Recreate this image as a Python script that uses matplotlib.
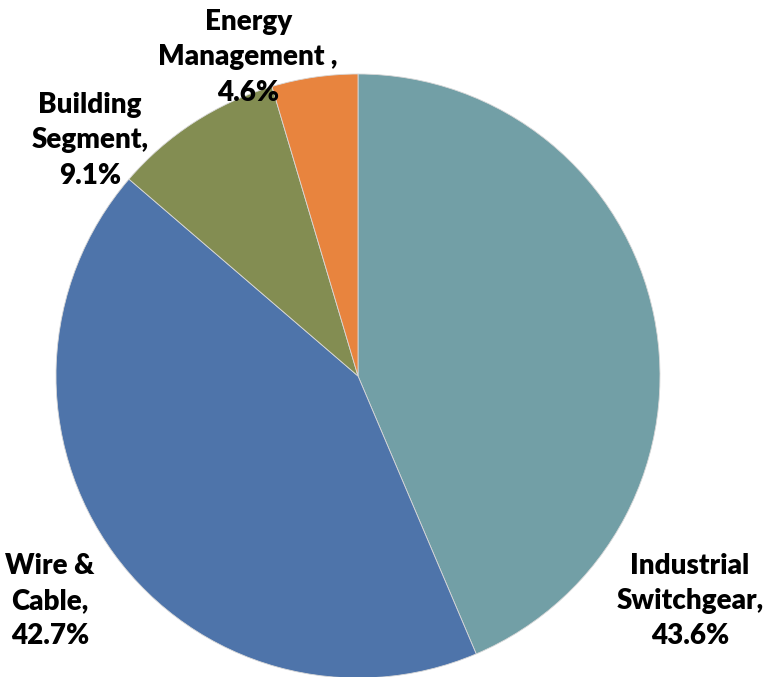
import matplotlib
matplotlib.use("Agg")
import matplotlib.pyplot as plt

segments = ["Industrial\nSwitchgear,", "Wire &\nCable,", "Building\nSegment,", "Energy\nManagement ,"]
shares = [43.6, 42.7, 9.1, 4.6]
colors = ["#729FA6", "#4E74AA", "#838D52", "#E8843E"]

# label centres in pie-radius units
label_pos = [(1.099, -0.745), (-1.02, -0.745), (-0.887, 0.781), (-0.364, 1.056)]

W, H = 768, 677
cx, cy, r = 358, 376, 302

fig = plt.figure(figsize=(W / 100, H / 100), dpi=100)
ax = fig.add_axes([0, 0, 1, 1])
ax.pie(shares, colors=colors, startangle=90, counterclock=False, radius=1,
       wedgeprops=dict(linewidth=0.6, edgecolor="#d8d8d8"))
ax.set_xlim(-cx / r, (W - cx) / r)
ax.set_ylim(-(H - cy) / r, cy / r)
ax.set_aspect("equal")
ax.axis("off")

for name, val, (x, y) in zip(segments, shares, label_pos):
    ax.text(x, y, f"{name}\n{val:.1f}%", ha="center", va="center",
            fontsize=20, fontweight="heavy", family="Lato", linespacing=1.45)

fig.savefig("out.png", dpi=100)
